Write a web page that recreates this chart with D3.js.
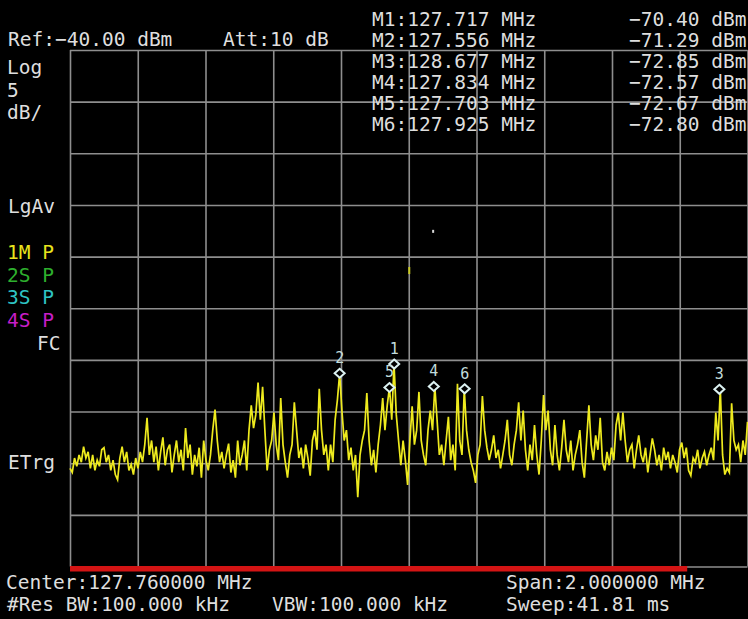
<!DOCTYPE html>
<html>
<head>
<meta charset="utf-8">
<script src="https://cdn.jsdelivr.net/npm/d3@7"></script>
<style>
  html, body { margin: 0; padding: 0; background: #000; }
  svg { display: block; }
  text { font-family: "DejaVu Sans Mono", monospace; font-size: 19.5px; fill: #dedede; }
</style>
</head>
<body>
<div id="container"></div>
<script>
/* CONSTANTS AND GLOBALS */
const width = 748;
const height = 619;
const plot = { left: 70, right: 747.5, top: 50, bottom: 566.5 };

/* DATA */
const centerMHz = 127.76;
const spanMHz = 2;
const refLevel = -40;      // dBm, top line
const dbPerDiv = 5;
const divisions = 10;
const attenuation = 10;    // dB
const resBwKHz = 100;
const vbwKHz = 100;
const sweepMs = 41.81;
const sweepDone = 0.911;   // fraction of the sweep bar that is red

// trace, 300 sweep points, dBm
const traceDbm = [
  -80.5, -80.9, -79.5, -80.3, -79.2, -79.9, -78.4, -79.5, -78.9, -80.5,
  -79.2, -80.7, -79.7, -80.3, -78.7, -78.5, -79.9, -79.2, -80.7, -79.7,
  -81.1, -81.6, -79.5, -78.4, -79.9, -78.9, -80.7, -80.1, -81.1, -79.5,
  -80.5, -78.9, -79.9, -78.2, -75.6, -79.2, -77.8, -79.9, -78.4, -80.7,
  -78.9, -77.5, -80.2, -78.7, -78.2, -80.9, -79.2, -77.8, -79.9, -78.7,
  -80.7, -76.6, -79.5, -78.2, -81.1, -79.2, -80.3, -78.5, -81.4, -77.8,
  -79.7, -80.7, -79.2, -76.8, -74.8, -77.8, -79.9, -78.9, -80.5, -79.2,
  -78.1, -80.9, -79.7, -81.4, -77.8, -80.2, -79.2, -77.8, -80.7, -76.8,
  -74.4, -76.6, -75.3, -72.2, -75.8, -72.6, -76.8, -80.7, -78.7, -77.8,
  -75.1, -78.2, -79.7, -73.7, -78.2, -79.9, -81.4, -79.2, -78.2, -74.1,
  -76.8, -79.5, -78.5, -80.5, -78.2, -79.5, -81.2, -77.8, -76.8, -78.7,
  -72.8, -76.8, -79.2, -78.2, -80.7, -78.2, -79.9, -75.8, -73.9, -71.29,
  -74.9, -77.8, -76.8, -79.7, -78.5, -80.7, -79.2, -83.3, -79.2, -77.8,
  -76.8, -73.2, -77.8, -80.2, -78.7, -80.9, -78.2, -76.3, -73.7, -76.8,
  -74.4, -72.67, -75.8, -70.40, -75.3, -77.8, -80.2, -77.8, -79.7, -82.1,
  -77.8, -74.5, -78.2, -76.8, -73.1, -77.8, -79.2, -80.2, -76.8, -74.9,
  -76.8, -72.57, -75.8, -79.2, -78.2, -80.2, -77.8, -75.5, -79.7, -78.2,
  -80.7, -72.3, -77.8, -79.2, -72.80, -76.8, -78.7, -79.9, -80.7, -81.9,
  -79.2, -78.2, -73.5, -76.8, -78.5, -79.7, -78.7, -77.3, -79.5, -78.7,
  -80.5, -79.2, -77.8, -75.8, -79.2, -80.2, -78.2, -76.8, -74.1, -77.8,
  -74.9, -78.7, -80.7, -78.2, -79.7, -76.3, -79.2, -81.1, -77.8, -73.4,
  -76.8, -74.9, -78.7, -80.2, -76.3, -79.2, -80.7, -78.5, -75.8, -78.7,
  -79.9, -77.8, -80.7, -79.2, -78.2, -76.8, -79.9, -81.4, -77.8, -74.4,
  -78.2, -79.7, -77.3, -78.7, -75.6, -79.9, -80.7, -78.9, -80.2, -78.5,
  -79.7, -76.3, -75.1, -77.8, -75.1, -77.8, -79.9, -78.7, -78.2, -80.5,
  -78.7, -77.3, -79.2, -79.9, -78.5, -80.9, -79.2, -77.6, -78.7, -80.2,
  -79.2, -80.7, -78.5, -79.7, -78.9, -80.5, -79.2, -79.9, -80.9, -78.7,
  -78.0, -79.5, -78.5, -80.7, -81.2, -79.5, -79.9, -78.7, -80.5, -79.5,
  -78.9, -80.2, -79.2, -78.5, -79.7, -75.1, -77.8, -72.85, -79.2, -81.1,
  -80.5, -80.9, -74.2, -77.8, -78.7, -78.2, -79.9, -77.8, -79.2, -76.0
];

// markers
const markerIds = ["1", "2", "3", "4", "5", "6"];
const markerMHz = [127.717, 127.556, 128.677, 127.834, 127.703, 127.925];
const markerDbm = [-70.40, -71.29, -72.85, -72.57, -72.67, -72.80];

// stray dots left on the screen
const strayMHz = [127.7615, 127.832];
const strayDbm = [-61.3, -57.7];
const strayColors = ["#c8c820", "#d8d8d8"];

// left side annotations
const scaleLabels = ["Log", "5", "dB/"];
const avgLabel = "LgAv";
const traceLabels = ["1M P", "2S P", "3S P", "4S P"];
const traceColors = ["#e8e41c", "#2eb02e", "#2ec4c4", "#c81ec8"];
const fcLabel = "FC";
const trigLabel = "ETrg";

/* SVG */
const svg = d3.select("#container")
  .append("svg")
  .attr("width", width)
  .attr("height", height);

svg.append("rect")
  .attr("width", width)
  .attr("height", height)
  .attr("fill", "#000");

/* SCALES */
const startMHz = centerMHz - spanMHz / 2;
const stopMHz = centerMHz + spanMHz / 2;

const xScale = d3.scaleLinear()
  .domain([startMHz, stopMHz])
  .range([plot.left, plot.right]);

const yScale = d3.scaleLinear()
  .domain([refLevel - dbPerDiv * divisions, refLevel])
  .range([plot.bottom, plot.top]);

const xTicks = d3.range(divisions + 1).map(i => startMHz + i * spanMHz / divisions);
const yTicks = d3.range(divisions + 1).map(i => refLevel - i * dbPerDiv);

/* GRATICULE */
const gridColor = "#8e8e8e";

svg.append("g")
  .attr("transform", `translate(0, ${plot.bottom})`)
  .call(d3.axisBottom(xScale).tickValues(xTicks).tickSize(-(plot.bottom - plot.top)).tickFormat(""))
  .call(g => g.select(".domain").remove())
  .call(g => g.selectAll("line").attr("stroke", gridColor).attr("stroke-width", 1.6));

svg.append("g")
  .attr("transform", `translate(${plot.left}, 0)`)
  .call(d3.axisLeft(yScale).tickValues(yTicks).tickSize(-(plot.right - plot.left)).tickFormat(""))
  .call(g => g.select(".domain").remove())
  .call(g => g.selectAll("line").attr("stroke", gridColor).attr("stroke-width", 1.6));

// sweep progress bar on the bottom line
svg.append("rect")
  .attr("x", xScale(startMHz))
  .attr("y", plot.bottom - 0.5)
  .attr("width", xScale(startMHz + sweepDone * spanMHz) - xScale(startMHz))
  .attr("height", 5.5)
  .attr("fill", "#d41414");

/* TRACE */
const traceMHz = i => startMHz + i * spanMHz / (traceDbm.length - 1);

const line = d3.line()
  .x((d, i) => xScale(traceMHz(i)))
  .y(d => yScale(d));

svg.append("path")
  .datum(traceDbm)
  .attr("fill", "none")
  .attr("stroke", "#eeea1e")
  .attr("stroke-width", 1.7)
  .attr("d", line);

svg.selectAll(".stray")
  .data(strayMHz)
  .join("rect")
    .attr("class", "stray")
    .attr("x", d => xScale(d) - 1)
    .attr("y", (d, i) => yScale(strayDbm[i]) - 3)
    .attr("width", 2)
    .attr("height", (d, i) => i === 0 ? 7 : 3)
    .attr("fill", (d, i) => strayColors[i]);

/* MARKERS */
const markers = svg.selectAll(".marker")
  .data(markerIds)
  .join("g")
    .attr("class", "marker")
    .attr("transform", (d, i) => `translate(${xScale(markerMHz[i])}, ${yScale(markerDbm[i])})`);

markers.append("path")
  .attr("d", "M0,-4.5L5,0L0,4.5L-5,0Z")
  .attr("fill", "#000")
  .attr("stroke", "#dcf2f2")
  .attr("stroke-width", 2);

markers.append("text")
  .attr("text-anchor", "middle")
  .attr("y", -10)
  .style("font-size", "15px")
  .style("fill", "#c2dcdc")
  .text(d => d);

/* TEXT READOUTS */
const fmt2 = d3.format(".2f");
const fmt3 = d3.format(".3f");
const fmt6 = d3.format(".6f");

svg.append("text").attr("x", 8).attr("y", 46).text(`Ref:${fmt2(refLevel)} dBm`);
svg.append("text").attr("x", 223).attr("y", 46).text(`Att:${attenuation} dB`);

svg.selectAll(".mfreq")
  .data(markerIds)
  .join("text")
    .attr("class", "mfreq")
    .attr("x", 372)
    .attr("y", (d, i) => 26 + i * 21)
    .text((d, i) => `M${d}:${fmt3(markerMHz[i])} MHz`);

svg.selectAll(".mamp")
  .data(markerIds)
  .join("text")
    .attr("class", "mamp")
    .attr("x", 629)
    .attr("y", (d, i) => 26 + i * 21)
    .text((d, i) => `${fmt2(markerDbm[i])} dBm`);

svg.selectAll(".scale-label")
  .data(scaleLabels)
  .join("text")
    .attr("class", "scale-label")
    .attr("x", 7)
    .attr("y", (d, i) => 74 + i * 22.5)
    .text(d => d);

svg.append("text").attr("x", 8).attr("y", 213).text(avgLabel);

svg.selectAll(".trace-label")
  .data(traceLabels)
  .join("text")
    .attr("class", "trace-label")
    .attr("x", 7)
    .attr("y", (d, i) => 259 + i * 22.7)
    .style("fill", (d, i) => traceColors[i])
    .text(d => d);

svg.append("text").attr("x", 37).attr("y", 350).text(fcLabel);
svg.append("text").attr("x", 8).attr("y", 469).text(trigLabel);

// bottom status lines
svg.append("text").attr("x", 6).attr("y", 589).text(`Center:${fmt6(centerMHz)} MHz`);
svg.append("text").attr("x", 506).attr("y", 589).text(`Span:${fmt6(spanMHz)} MHz`);
svg.append("text").attr("x", 7).attr("y", 611).text(`#Res BW:${fmt3(resBwKHz)} kHz`);
svg.append("text").attr("x", 272).attr("y", 611).text(`VBW:${fmt3(vbwKHz)} kHz`);
svg.append("text").attr("x", 506).attr("y", 611).text(`Sweep:${fmt2(sweepMs)} ms`);
</script>
</body>
</html>
